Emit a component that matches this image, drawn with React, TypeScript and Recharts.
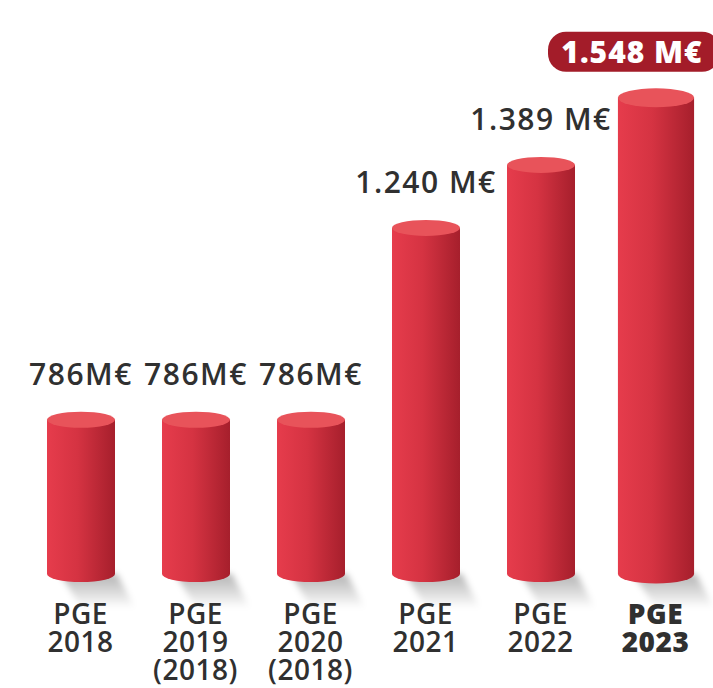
import React from 'react';
import { BarChart, Bar, XAxis, YAxis, LabelList } from 'recharts';

const categories = ['PGE\n2018', 'PGE\n2019\n(2018)', 'PGE\n2020\n(2018)', 'PGE\n2021', 'PGE\n2022', 'PGE\n2023'];
const budgets = [786, 786, 786, 1240, 1389, 1548];
const budgetLabels = ['786M€', '786M€', '786M€', '1.240 M€', '1.389 M€', '1.548 M€'];
const highlightIndex = 5;

const data = categories.map((c, i) => ({ name: c, value: budgets[i] }));

const W = 713;
const H = 688;
const FONT = '"Open Sans", "Noto Sans", sans-serif';
const TEXT = '#303030';
const LABEL_OFFSET = 46;

function Cylinder(props: any) {
  const { x, y, width, height, index } = props;
  const hl = index === highlightIndex;
  const w = hl ? width * 1.12 : width;
  const cx = x + width / 2;
  const left = cx - w / 2;
  const rx = w / 2;
  const ry = hl ? 9.5 : 8;
  const base = y + height;
  return (
    <g>
      <path
        d={`M${left + w * 0.2},${base} L${left + w + 2},${base} L${left + w + 20},${base + 34} L${left + w * 0.5},${base + 34} Z`}
        fill="url(#shadowGrad)"
        filter="url(#softBlur)"
      />
      <rect x={left} y={y} width={w} height={height} fill="url(#barGrad)" />
      <ellipse cx={cx} cy={base} rx={rx} ry={ry} fill="url(#barGrad)" />
      <ellipse cx={cx} cy={y} rx={rx} ry={ry} fill="#e8535a" />
    </g>
  );
}

function ValueLabel(props: any) {
  const { x, y, width, index } = props;
  const cx = x + width / 2;
  const text = budgetLabels[index];
  const cy = y - LABEL_OFFSET;
  if (index === highlightIndex) {
    const bw = 172;
    const bh = 40;
    let bx = cx - bw / 2;
    const maxRight = W + 7;
    if (bx + bw > maxRight) bx = maxRight - bw;
    return (
      <g>
        <rect x={bx} y={cy - bh / 2} width={bw} height={bh} rx={18} ry={18} fill="#a31c29" />
        <text x={bx + bw / 2 - 2} y={cy} textAnchor="middle" dominantBaseline="central" fill="#ffffff"
          fontFamily={FONT} fontSize={30} fontWeight={800} letterSpacing={1}>{text}</text>
      </g>
    );
  }
  return (
    <text x={cx} y={cy} textAnchor="middle" dominantBaseline="central" fill={TEXT}
      fontFamily={FONT} fontSize={30} fontWeight={600} letterSpacing={1.5}>{text}</text>
  );
}

function CategoryTick(props: any) {
  const { x, y, payload, index } = props;
  const lines = String(payload.value).split('\n');
  const bold = index === highlightIndex;
  return (
    <text x={x} y={y} textAnchor="middle" fill={TEXT} fontFamily={FONT} fontSize={28}
      fontWeight={bold ? 800 : 600} letterSpacing={bold ? 0.5 : 0.5}>
      {lines.map((l, i) => (
        <tspan key={i} x={x} dy={i === 0 ? 50 : 28}>{l}</tspan>
      ))}
    </text>
  );
}

export default function App() {
  return (
    <div style={{ position: 'absolute', left: 0, top: 0, background: '#ffffff' }}>
      <BarChart width={W} height={H} data={data} margin={{ top: 20, right: 0, left: 23, bottom: 0 }}>
        <defs>
          <linearGradient id="barGrad" x1="0" y1="0" x2="1" y2="0">
            <stop offset="0%" stopColor="#e63c4c" />
            <stop offset="45%" stopColor="#d53342" />
            <stop offset="100%" stopColor="#a61f2c" />
          </linearGradient>
          <linearGradient id="shadowGrad" x1="0" y1="0" x2="0" y2="1">
            <stop offset="0%" stopColor="#000000" stopOpacity={0.3} />
            <stop offset="100%" stopColor="#000000" stopOpacity={0} />
          </linearGradient>
          <filter id="softBlur" x="-50%" y="-50%" width="200%" height="200%">
            <feGaussianBlur stdDeviation="3" />
          </filter>
        </defs>
        <XAxis dataKey="name" axisLine={false} tickLine={false} tickSize={0} tickMargin={0}
          height={114} interval={0} tick={<CategoryTick />} />
        <YAxis hide domain={[421, 1732]} type="number" />
        <Bar dataKey="value" barSize={68} shape={<Cylinder />} isAnimationActive={false}>
          <LabelList dataKey="value" content={<ValueLabel />} />
        </Bar>
      </BarChart>
    </div>
  );
}
